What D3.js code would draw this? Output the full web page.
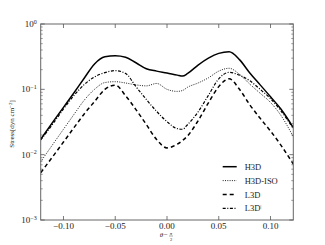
<!DOCTYPE html>
<html>
<head>
<meta charset="utf-8">
<script src="https://d3js.org/d3.v7.min.js"></script>
<style>
  body { margin: 0; background: #fff; }
  text { font-family: "Liberation Serif", "DejaVu Serif", serif; }
</style>
</head>
<body>
<svg id="chart"></svg>
<script>
  // theta - pi/2 grid shared by all curves
  const theta = [-0.122, -0.11, -0.10, -0.09, -0.08, -0.07, -0.06, -0.05, -0.04, -0.03, -0.02, -0.01,
                 0.00, 0.01, 0.015, 0.02, 0.03, 0.04, 0.05, 0.06, 0.07, 0.08, 0.09, 0.10, 0.11, 0.122];

  // stress values
  const h3d    = [0.0172, 0.032, 0.053, 0.088, 0.148, 0.245, 0.315, 0.327, 0.31, 0.255, 0.207, 0.19,
                  0.178, 0.165, 0.160, 0.175, 0.235, 0.30, 0.355, 0.375, 0.285, 0.178, 0.117, 0.077, 0.050, 0.026];
  const h3dIso = [0.0078, 0.0146, 0.0245, 0.041, 0.068, 0.10, 0.127, 0.131, 0.125, 0.117, 0.113, 0.123,
                  0.100, 0.093, 0.096, 0.108, 0.125, 0.15, 0.19, 0.21, 0.17, 0.12, 0.087, 0.063, 0.040, 0.0188];
  const l3d    = [0.0053, 0.0095, 0.0156, 0.0257, 0.042, 0.065, 0.10, 0.116, 0.08, 0.049, 0.029, 0.017,
                  0.0127, 0.0145, 0.0165, 0.0195, 0.033, 0.062, 0.11, 0.145, 0.10, 0.058, 0.036, 0.023, 0.014, 0.0072];
  const l3dPar = [0.0168, 0.030, 0.050, 0.080, 0.118, 0.155, 0.18, 0.193, 0.175, 0.11, 0.07, 0.046,
                  0.032, 0.025, 0.0245, 0.029, 0.045, 0.081, 0.145, 0.182, 0.165, 0.135, 0.10, 0.072, 0.047, 0.025];

  const seriesNames = ["H3D", "H3D-ISO", "L3D", "L3D"];
  const seriesValues = [h3d, h3dIso, l3d, l3dPar];

  const xTicks = [-0.10, -0.05, 0.00, 0.05, 0.10];
  const yTickExp = [0, -1, -2, -3];

  const width = 325, height = 245;
  const margin = { top: 24, right: 31.7, bottom: 25, left: 40.7 };
  const plotW = width - margin.left - margin.right;
  const plotH = height - margin.top - margin.bottom;

  const svg = d3.select("#chart").attr("width", width).attr("height", height);
  const g = svg.append("g").attr("transform", `translate(${margin.left},${margin.top})`);

  const x = d3.scaleLinear().domain([-0.122, 0.122]).range([0, plotW]);
  const y = d3.scaleLog().domain([1e-3, 1]).range([plotH, 0]);

  // line styles per series
  const styles = [
    { stroke: "#000", width: 1.5, dash: null },
    { stroke: "#222", width: 1, dash: "1,1.3" },
    { stroke: "#000", width: 1.5, dash: "4,3" },
    { stroke: "#000", width: 1.2, dash: "3,1.6,1,1.6" }
  ];

  const line = d3.line()
    .x((d, i) => x(theta[i]))
    .y(d => y(d))
    .curve(d3.curveMonotoneX);

  g.append("clipPath").attr("id", "clip")
    .append("rect").attr("width", plotW).attr("height", plotH);

  g.append("g").attr("clip-path", "url(#clip)")
    .selectAll("path")
    .data(seriesValues)
    .enter()
    .append("path")
    .attr("d", line)
    .attr("fill", "none")
    .attr("stroke", (d, i) => styles[i].stroke)
    .attr("stroke-width", (d, i) => styles[i].width)
    .attr("stroke-dasharray", (d, i) => styles[i].dash);

  // frame
  g.append("rect")
    .attr("width", plotW).attr("height", plotH)
    .attr("fill", "none").attr("stroke", "#666").attr("stroke-width", 1);

  // x ticks (inward, bottom and top)
  const tickColor = "#555";
  xTicks.forEach(t => {
    g.append("line").attr("x1", x(t)).attr("x2", x(t)).attr("y1", plotH).attr("y2", plotH - 4)
      .attr("stroke", tickColor).attr("stroke-width", 0.8);
    g.append("line").attr("x1", x(t)).attr("x2", x(t)).attr("y1", 0).attr("y2", 4)
      .attr("stroke", tickColor).attr("stroke-width", 0.8);
    g.append("text").attr("x", x(t)).attr("y", plotH + 9)
      .attr("text-anchor", "middle").attr("font-size", 9).attr("fill", "#222")
      .text(d3.format(".2f")(t).replace("-", "\u2212"));
  });

  // y ticks, major + minor on both sides
  yTickExp.forEach(e => {
    const v = Math.pow(10, e);
    [[0, 4], [plotW, plotW - 4]].forEach(([a, b]) => {
      g.append("line").attr("x1", a).attr("x2", b).attr("y1", y(v)).attr("y2", y(v))
        .attr("stroke", tickColor).attr("stroke-width", 0.8);
    });
    if (e < 0) {
      for (let m = 2; m <= 9; m++) {
        const mv = m * v;
        [[0, 2], [plotW, plotW - 2]].forEach(([a, b]) => {
          g.append("line").attr("x1", a).attr("x2", b).attr("y1", y(mv)).attr("y2", y(mv))
            .attr("stroke", tickColor).attr("stroke-width", 0.6);
        });
      }
    }
    const lbl = g.append("text").attr("x", -4).attr("y", y(v) + 3)
      .attr("text-anchor", "end").attr("font-size", 9).attr("fill", "#222");
    lbl.append("tspan").text("10");
    lbl.append("tspan").attr("dy", -3.5).attr("font-size", 6)
      .text(String(e).replace("-", "\u2212"));
  });

  // y axis label
  const yl = svg.append("text")
    .attr("transform", `translate(14,${margin.top + plotH / 2 + 2}) rotate(-90)`)
    .attr("text-anchor", "middle").attr("font-size", 7).attr("fill", "#222");
  yl.append("tspan").text("Stress[dyn cm");
  yl.append("tspan").attr("dy", -2.5).attr("font-size", 5).text("\u22122");
  yl.append("tspan").attr("dy", 2.5).text("]");

  // x axis label: theta - pi/2
  const xl = svg.append("g").attr("transform", `translate(${margin.left + x(0)},${margin.top + plotH})`);
  xl.append("text").attr("x", 1).attr("y", 17).attr("text-anchor", "end")
    .attr("font-size", 7).attr("font-style", "italic").attr("fill", "#222").text("\u03b8\u2212");
  xl.append("text").attr("x", 4).attr("y", 15).attr("text-anchor", "middle")
    .attr("font-size", 4.5).attr("font-style", "italic").attr("fill", "#222").text("\u03c0");
  xl.append("line").attr("x1", 2).attr("x2", 6).attr("y1", 16).attr("y2", 16)
    .attr("stroke", "#222").attr("stroke-width", 0.4);
  xl.append("text").attr("x", 4).attr("y", 20.5).attr("text-anchor", "middle")
    .attr("font-size", 4.5).attr("fill", "#222").text("2");

  // legend
  const legend = svg.append("g").attr("transform", "translate(222.7,166.7)");
  seriesNames.forEach((name, i) => {
    const row = legend.append("g").attr("transform", `translate(0,${i * 13.9})`);
    row.append("line").attr("x1", 0).attr("x2", 14).attr("y1", 0).attr("y2", 0)
      .attr("stroke", styles[i].stroke).attr("stroke-width", styles[i].width)
      .attr("stroke-dasharray", styles[i].dash);
    const t = row.append("text").attr("x", 22).attr("y", 3)
      .attr("font-size", 8.5).attr("fill", "#222").text(name);
    if (i === 3) {
      t.append("tspan").attr("dy", -3.5).attr("font-size", 5).text("|");
    }
  });
</script>
</body>
</html>
